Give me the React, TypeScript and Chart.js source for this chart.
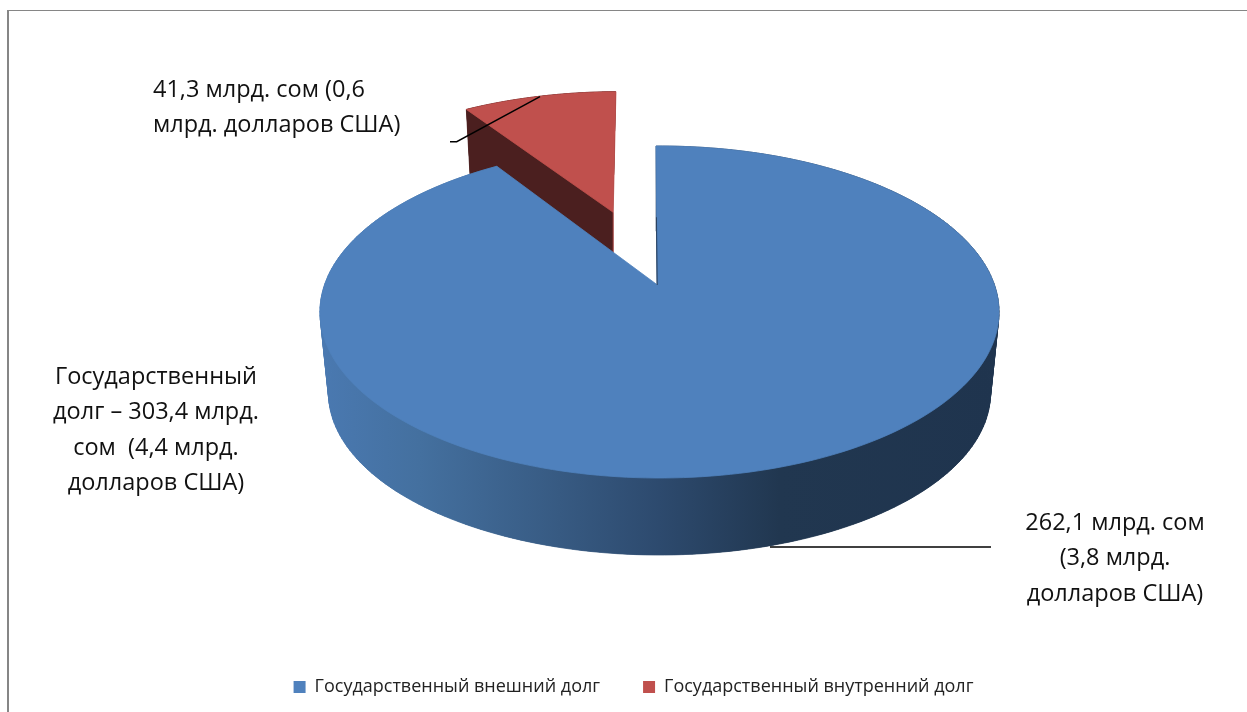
import React, { useEffect, useRef } from "react";
import { Chart, registerables } from "chart.js";

Chart.register(...registerables);

const categories = ["Государственный внешний долг", "Государственный внутренний долг"];
const shares = [90.9, 9.1];
const sliceColors = ["#4f81bd", "#c0504d"];
const explode = [0, 0.508];
const labelA = ["41,3 млрд. сом (0,6", "млрд. долларов США)"];
const labelB = ["Государственный", "долг – 303,4 млрд.", "сом  (4,4 млрд.", "долларов США)"];
const labelC = ["262,1 млрд. сом", "(3,8 млрд.", "долларов США)"];

const CX = 659.5, CY = 285, W = 335, A = 161.6, K = 0.1627;
const WB = 326.6, AB = 157.6, CYB = 366.8;
const APEX_SHIFT = -0.006;
const FONT = '"Open Sans", sans-serif';

type P = [number, number];
const top = (u: number, v: number): P => {
  const d = 1 + K * v;
  return [CX + (W * u) / d, CY - (A * v) / d];
};
const bot = (u: number, v: number): P => {
  const d = 1 + K * v;
  return [CX + (WB * u) / d, CYB - (AB * v) / d];
};

const poly = (ctx: CanvasRenderingContext2D, pts: P[]) => {
  ctx.beginPath();
  pts.forEach((p, i) => (i ? ctx.lineTo(p[0], p[1]) : ctx.moveTo(p[0], p[1])));
  ctx.closePath();
};

function drawSlice(
  ctx: CanvasRenderingContext2D,
  startAngle: number,
  endAngle: number,
  ex: number,
  topColor: string,
  rimFill: string | CanvasGradient,
  startCut: string | null,
  endEdge: string | null
) {
  const t0 = startAngle + Math.PI / 2;
  const t1 = endAngle + Math.PI / 2;
  const mid = (t0 + t1) / 2;
  const ou = Math.sin(mid) * ex;
  const ov = Math.cos(mid) * ex;
  const n = 240;
  const rimU: number[] = [];
  const rimV: number[] = [];
  for (let i = 0; i <= n; i++) {
    const t = t0 + ((t1 - t0) * i) / n;
    rimU.push(ou + Math.sin(t));
    rimV.push(ov + Math.cos(t));
  }
  const topPts: P[] = rimU.map((u, i) => top(u, rimV[i]));
  const botPts: P[] = rimU.map((u, i) => bot(u, rimV[i]));
  const shift = ex === 0 ? APEX_SHIFT : 0;
  const apexT = top(ou + shift, ov);
  const apexB = bot(ou + shift, ov);

  ctx.save();
  if (endEdge) {
    // the exploded slice's walls stay inside the line of its right-hand edge
    const e = topPts[n];
    poly(ctx, [e, apexT, [apexT[0], 712], [0, 712], [0, 0], [e[0], 0]]);
    ctx.clip();
  }
  ctx.fillStyle = rimFill;
  ctx.strokeStyle = rimFill;
  ctx.lineWidth = 0.7;
  poly(ctx, [apexB, ...botPts]);
  ctx.fill();
  for (let i = 0; i < n; i++) {
    poly(ctx, [topPts[i], topPts[i + 1], botPts[i + 1], botPts[i]]);
    ctx.fill();
    ctx.stroke();
  }
  if (startCut) {
    ctx.fillStyle = startCut;
    poly(ctx, [apexT, topPts[0], botPts[0], apexB]);
    ctx.fill();
  }
  ctx.restore();
  if (endEdge) {
    ctx.strokeStyle = endEdge;
    ctx.lineWidth = 1;
    ctx.beginPath();
    ctx.moveTo(apexT[0], apexT[1]);
    ctx.lineTo(apexT[0], apexB[1]);
    ctx.stroke();
  }
  ctx.fillStyle = topColor;
  ctx.strokeStyle = topColor;
  ctx.lineWidth = 0.8;
  poly(ctx, [apexT, ...topPts]);
  ctx.fill();
  ctx.stroke();
}

const textBlock = (
  ctx: CanvasRenderingContext2D,
  lines: string[],
  x: number,
  y: number,
  lh: number,
  align: CanvasTextAlign
) => {
  ctx.fillStyle = "#111111";
  ctx.font = `23.5px ${FONT}`;
  ctx.textAlign = align;
  ctx.textBaseline = "middle";
  lines.forEach((l, i) => ctx.fillText(l, x, y + i * lh));
};

const pie3d = {
  id: "pie3d",
  beforeDraw(chart: any) {
    const ctx = chart.ctx;
    ctx.save();
    ctx.fillStyle = "#ffffff";
    ctx.fillRect(0, 0, chart.width, chart.height);
    ctx.fillStyle = "#868686";
    ctx.fillRect(7, 10, 2, chart.height - 10);
    ctx.fillRect(7, 10, chart.width - 7, 1);
    ctx.restore();
  },
  beforeDatasetsDraw(chart: any) {
    const ctx: CanvasRenderingContext2D = chart.ctx;
    const arcs = chart.getDatasetMeta(0).data;
    ctx.save();
    const wall = ctx.createLinearGradient(320, 0, 999, 0);
    wall.addColorStop(0, "#4a79b1");
    wall.addColorStop(0.147, "#44709f");
    wall.addColorStop(0.353, "#375a82");
    wall.addColorStop(0.5, "#2d4a6e");
    wall.addColorStop(0.677, "#213750");
    wall.addColorStop(1, "#1f344e");

    drawSlice(ctx, arcs[1].startAngle, arcs[1].endAngle, explode[1], sliceColors[1], "#4b1f1f", "#4b1f1f", "#a8423f");
    drawSlice(ctx, arcs[0].startAngle, arcs[0].endAngle, explode[0], sliceColors[0], wall, null, null);

    const t = arcs[0].startAngle + Math.PI / 2;
    const a = top(Math.sin(t) * 0.45 + APEX_SHIFT * 0.55, Math.cos(t) * 0.45);
    const b = top(APEX_SHIFT, 0);
    ctx.strokeStyle = "#2a4260";
    ctx.lineWidth = 1;
    ctx.beginPath();
    ctx.moveTo(a[0] - 0.3, a[1]);
    ctx.lineTo(b[0] - 0.3, b[1]);
    ctx.stroke();

    ctx.strokeStyle = "#000000";
    ctx.lineWidth = 1.4;
    ctx.beginPath();
    ctx.moveTo(540, 96.7);
    ctx.lineTo(456.7, 141.7);
    ctx.lineTo(450, 141.7);
    ctx.stroke();
    ctx.beginPath();
    ctx.moveTo(770, 547);
    ctx.lineTo(991, 547);
    ctx.stroke();

    textBlock(ctx, labelA, 153, 90, 35.5, "left");
    textBlock(ctx, labelB, 156, 377, 35.5, "center");
    textBlock(ctx, labelC, 1115, 523, 35.5, "center");
    ctx.restore();
    return false;
  },
};

export default function App() {
  const ref = useRef<HTMLCanvasElement>(null);
  useEffect(() => {
    const chart = new Chart(ref.current!, {
      type: "pie",
      data: {
        labels: categories,
        datasets: [{ data: shares, backgroundColor: sliceColors, borderWidth: 0 }],
      },
      options: {
        animation: false,
        responsive: false,
        devicePixelRatio: 1,
        rotation: -0.7,
        layout: { padding: { left: 20, bottom: 6 } },
        plugins: {
          tooltip: { enabled: false },
          legend: {
            position: "bottom",
            labels: {
              boxWidth: 12,
              boxHeight: 12,
              padding: 43,
              color: "#222222",
              font: { family: FONT, size: 18 },
            },
          },
        },
      },
      plugins: [pie3d],
    } as any);
    return () => chart.destroy();
  }, []);
  return (
    <canvas
      ref={ref}
      width={1247}
      height={712}
      style={{ position: "absolute", left: 0, top: 0, width: 1247, height: 712 }}
    />
  );
}
